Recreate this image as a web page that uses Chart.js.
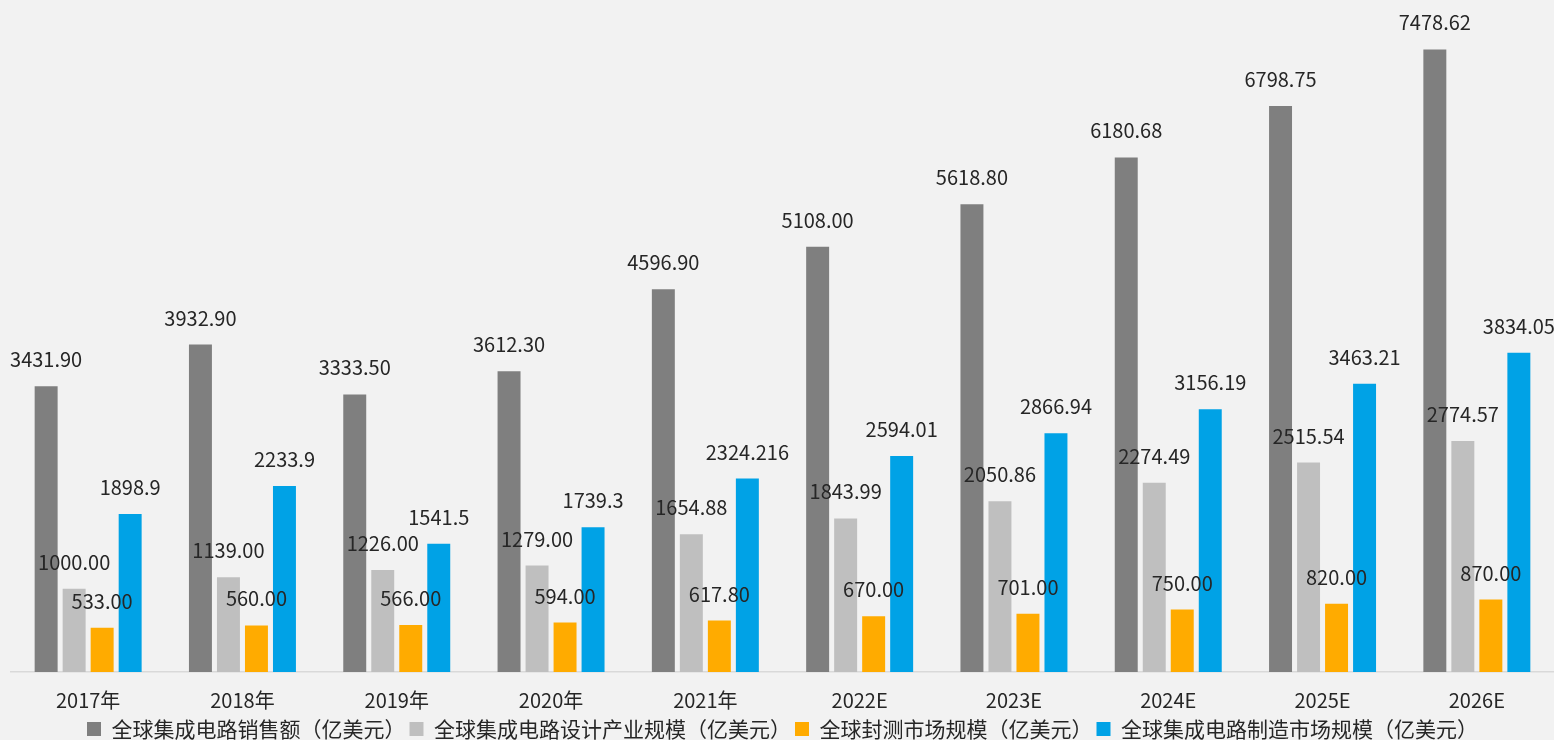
<!DOCTYPE html>
<html lang="zh-CN">
<head>
<meta charset="utf-8">
<title>全球集成电路市场规模</title>
<script src="https://cdn.jsdelivr.net/npm/chart.js@4/dist/chart.umd.min.js"></script>
<style>
    html, body { margin: 0; padding: 0; background: #f2f2f2; }
    #wrap { width: 1554px; height: 740px; position: relative; }
</style>
</head>
<body>
<div id="wrap"><canvas id="grafico"></canvas></div>
<script>
const anios = ['2017年', '2018年', '2019年', '2020年', '2021年', '2022E', '2023E', '2024E', '2025E', '2026E'];

const ventas = [3431.90, 3932.90, 3333.50, 3612.30, 4596.90, 5108.00, 5618.80, 6180.68, 6798.75, 7478.62];
const diseno = [1000.00, 1139.00, 1226.00, 1279.00, 1654.88, 1843.99, 2050.86, 2274.49, 2515.54, 2774.57];
const encapsulado = [533.00, 560.00, 566.00, 594.00, 617.80, 670.00, 701.00, 750.00, 820.00, 870.00];
const fabricacion = [1898.9, 2233.9, 1541.5, 1739.3, 2324.216, 2594.01, 2866.94, 3156.19, 3463.21, 3834.05];

const FUENTE = '"Noto Sans CJK SC", "Liberation Sans", sans-serif';

// etiquetas encima de cada barra (no hay plugin datalabels)
const etiquetas = {
    id: 'etiquetas',
    afterDatasetsDraw(chart) {
        const ctx = chart.ctx;
        ctx.save();
        ctx.font = '20px ' + FUENTE;
        ctx.fillStyle = '#262626';
        ctx.textAlign = 'center';
        ctx.textBaseline = 'alphabetic';
        chart.data.datasets.forEach((ds, i) => {
            const meta = chart.getDatasetMeta(i);
            meta.data.forEach((bar, j) => {
                const v = ds.data[j];
                const texto = ds.decimales ? v.toFixed(2) : String(v);
                ctx.fillText(texto, bar.x, bar.y - 19);
            });
        });
        ctx.restore();
    }
};

// la leyenda ocupa menos alto y se dibuja pegada al borde inferior
const ajusteLeyenda = {
    id: 'ajusteLeyenda',
    beforeInit(chart) {
        const fitOriginal = chart.legend.fit;
        chart.legend.fit = function () {
            fitOriginal.call(this);
            this.height = 20;
        };
    },
    afterLayout(chart) {
        chart.legend.top = 714.5;
        chart.legend.bottom = 740;
    }
};

const ctx = document.getElementById('grafico').getContext('2d');
new Chart(ctx, {
    type: 'bar',
    data: {
        labels: anios,
        datasets: [
            { label: '全球集成电路销售额（亿美元）', data: ventas, backgroundColor: '#7f7f7f', decimales: true },
            { label: '全球集成电路设计产业规模（亿美元）', data: diseno, backgroundColor: '#bfbfbf', decimales: true },
            { label: '全球封测市场规模（亿美元）', data: encapsulado, backgroundColor: '#ffab00', decimales: true },
            { label: '全球集成电路制造市场规模（亿美元）', data: fabricacion, backgroundColor: '#00a2e6', decimales: false }
        ]
    },
    options: {
        responsive: true,
        maintainAspectRatio: false,
        devicePixelRatio: 1,
        animation: false,
        layout: { padding: { top: 6, left: 11, right: 0, bottom: 0 } },
        datasets: {
            bar: { barPercentage: 0.82, categoryPercentage: 0.726 }
        },
        scales: {
            x: {
                grid: { display: false, drawTicks: false },
                border: { display: true, color: '#d9d9d9', width: 1.5 },
                ticks: { color: '#262626', padding: 16, font: { size: 20, family: FUENTE } },
                afterFit(escala) { escala.height = 48; }
            },
            y: {
                display: false,
                min: 0,
                max: 8000
            }
        },
        plugins: {
            legend: {
                position: 'bottom',
                labels: {
                    boxWidth: 14,
                    boxHeight: 14,
                    padding: 4,
                    color: '#262626',
                    font: { size: 21, family: FUENTE }
                }
            },
            tooltip: { enabled: false }
        }
    },
    plugins: [etiquetas, ajusteLeyenda]
});
</script>
</body>
</html>
